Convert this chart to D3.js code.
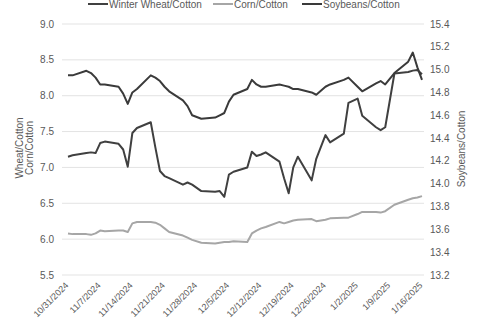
<!DOCTYPE html>
<html>
<head>
<meta charset="utf-8">
<script src="https://cdn.jsdelivr.net/npm/d3@7"></script>
<style>
    body { margin: 0; background: #fff; }
    svg { font-family: "Liberation Sans", Arial, sans-serif; }
    .tick-label { fill: #595959; font-size: 10px; }
    .grid { stroke: #e3e3e3; stroke-width: 1; }
</style>
</head>
<body>
<svg id="canvas" width="480" height="319"></svg>
<script>
// trading days shown on the chart
const dates = [
    "2024-10-31", "2024-11-01",
    "2024-11-04", "2024-11-05", "2024-11-06", "2024-11-07", "2024-11-08",
    "2024-11-11", "2024-11-12", "2024-11-13", "2024-11-14", "2024-11-15",
    "2024-11-18", "2024-11-19", "2024-11-20", "2024-11-21", "2024-11-22",
    "2024-11-25", "2024-11-26", "2024-11-27", "2024-11-29",
    "2024-12-02", "2024-12-03", "2024-12-04", "2024-12-05", "2024-12-06",
    "2024-12-09", "2024-12-10", "2024-12-11", "2024-12-12", "2024-12-13",
    "2024-12-16", "2024-12-17", "2024-12-18", "2024-12-19", "2024-12-20",
    "2024-12-23", "2024-12-24", "2024-12-26", "2024-12-27",
    "2024-12-30", "2024-12-31", "2025-01-02", "2025-01-03",
    "2025-01-06", "2025-01-07", "2025-01-08", "2025-01-10",
    "2025-01-13", "2025-01-14", "2025-01-15", "2025-01-16"
];

const wheatCotton = [
    7.15, 7.17, 7.20, 7.21, 7.20, 7.34, 7.36, 7.33, 7.25, 7.01, 7.48, 7.55,
    7.63, 7.28, 6.95, 6.88, 6.85, 6.76, 6.79, 6.76, 6.67, 6.66, 6.67, 6.59,
    6.90, 6.94, 7.00, 7.22, 7.16, 7.18, 7.21, 7.08, 6.85, 6.64, 7.00, 7.15,
    6.82, 7.12, 7.45, 7.35, 7.47, 7.90, 7.96, 7.72, 7.56, 7.52, 7.56, 8.31,
    8.33, 8.35, 8.36, 8.30
];

const cornCotton = [
    6.08, 6.07, 6.07, 6.06, 6.08, 6.12, 6.11, 6.12, 6.12, 6.10, 6.22, 6.24,
    6.24, 6.23, 6.20, 6.15, 6.10, 6.05, 6.02, 5.99, 5.95, 5.94, 5.95, 5.96,
    5.96, 5.97, 5.96, 6.08, 6.12, 6.15, 6.17, 6.24, 6.22, 6.24, 6.26, 6.27,
    6.28, 6.25, 6.27, 6.29, 6.30, 6.30, 6.35, 6.38, 6.38, 6.37, 6.39, 6.48,
    6.55, 6.57, 6.58, 6.60
];

const soybeansCotton = [
    14.95, 14.95, 14.99, 14.97, 14.93, 14.87, 14.87, 14.85, 14.79, 14.70, 14.80, 14.83,
    14.95, 14.93, 14.90, 14.85, 14.81, 14.73, 14.68, 14.60, 14.57, 14.58, 14.60, 14.62,
    14.72, 14.78, 14.83, 14.91, 14.87, 14.85, 14.85, 14.87, 14.86, 14.85, 14.83, 14.83,
    14.80, 14.78, 14.85, 14.87, 14.91, 14.93, 14.85, 14.81, 14.88, 14.90, 14.87, 14.97,
    15.07, 15.15, 15.02, 14.91
];

const leftTicks = [5.5, 6.0, 6.5, 7.0, 7.5, 8.0, 8.5, 9.0];
const rightTicks = [13.2, 13.4, 13.6, 13.8, 14.0, 14.2, 14.4, 14.6, 14.8, 15.0, 15.2, 15.4];
const dateTicks = [
    "2024-10-31", "2024-11-07", "2024-11-14", "2024-11-21", "2024-11-28", "2024-12-05",
    "2024-12-12", "2024-12-19", "2024-12-26", "2025-01-02", "2025-01-09", "2025-01-16"
];

const parseDate = d3.timeParse("%Y-%m-%d");
const fmtDate = d3.timeFormat("%-m/%-d/%Y");
const days = dates.map(parseDate);

const svg = d3.select("#canvas");

const x = d3.scaleTime()
    .domain([parseDate("2024-10-31"), parseDate("2025-01-16")])
    .range([68, 422]);
const yLeft = d3.scaleLinear().domain([5.5, 9.0]).range([275, 24]);
const yRight = d3.scaleLinear().domain([13.2, 15.4]).range([275, 24]);

// gridlines
svg.append("g").selectAll("line")
    .data(leftTicks)
    .enter()
    .append("line")
    .attr("class", "grid")
    .attr("x1", 62)
    .attr("x2", 424)
    .attr("y1", d => yLeft(d))
    .attr("y2", d => yLeft(d));

// left axis labels
svg.append("g").selectAll("text")
    .data(leftTicks)
    .enter()
    .append("text")
    .attr("class", "tick-label")
    .attr("x", 54)
    .attr("y", d => yLeft(d) + 3.5)
    .attr("text-anchor", "end")
    .text(d => d.toFixed(1));

// right axis labels
svg.append("g").selectAll("text")
    .data(rightTicks)
    .enter()
    .append("text")
    .attr("class", "tick-label")
    .attr("x", 430)
    .attr("y", d => yRight(d) + 3.5)
    .text(d => d.toFixed(1));

// date labels, rotated
svg.append("g").selectAll("text")
    .data(dateTicks.map(parseDate))
    .enter()
    .append("text")
    .attr("class", "tick-label")
    .style("font-size", "9px")
    .attr("text-anchor", "end")
    .attr("transform", d => "translate(" + (x(d) + 1) + ",286) rotate(-45)")
    .text(d => fmtDate(d));

// axis titles
const leftTitle = svg.append("text")
    .attr("class", "tick-label")
    .attr("text-anchor", "middle")
    .attr("transform", "translate(25,148) rotate(-90)");
leftTitle.append("tspan").attr("x", 0).attr("dy", -2).text("Wheat/Cotton");
leftTitle.append("tspan").attr("x", 0).attr("dy", 10).text("Corn/Cotton");

svg.append("text")
    .attr("class", "tick-label")
    .attr("text-anchor", "middle")
    .attr("transform", "translate(465,149) rotate(-90)")
    .text("Soybeans/Cotton");

// series lines
const series = [
    { name: "Winter Wheat/Cotton", values: wheatCotton, scale: yLeft, color: "#404040" },
    { name: "Corn/Cotton", values: cornCotton, scale: yLeft, color: "#a6a6a6" },
    { name: "Soybeans/Cotton", values: soybeansCotton, scale: yRight, color: "#3a3a3a" }
];

series.forEach(s => {
    const line = d3.line()
        .x((v, i) => x(days[i]))
        .y(v => s.scale(v));
    svg.append("path")
        .datum(s.values)
        .attr("fill", "none")
        .attr("stroke", s.color)
        .attr("stroke-width", 2)
        .attr("stroke-linejoin", "round")
        .attr("d", line);
});

// legend
const legendX = [88, 213, 302];
const legend = svg.append("g").selectAll("g")
    .data(series)
    .enter()
    .append("g")
    .attr("transform", (s, i) => "translate(" + legendX[i] + ",4)");
legend.append("line")
    .attr("x1", 0).attr("x2", 20)
    .attr("stroke", s => s.color)
    .attr("stroke-width", 2);
legend.append("text")
    .attr("class", "tick-label")
    .attr("x", 21)
    .attr("y", 3.5)
    .text(s => s.name);
</script>
</body>
</html>
